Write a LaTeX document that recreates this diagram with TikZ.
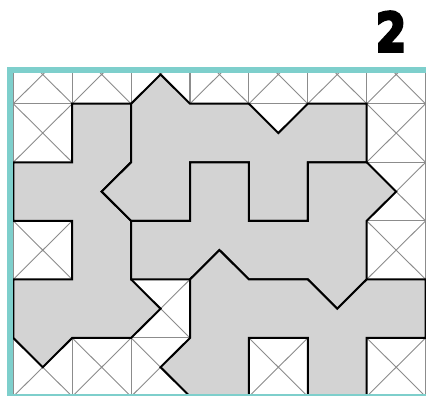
\documentclass[tikz,border=0pt]{standalone}
\usepackage{fontspec}
\newfontfamily\numfont{DejaVu Sans}[BoldFeatures={FakeBold=6}]
\definecolor{tealborder}{HTML}{7ECFCC}
\definecolor{shapegray}{HTML}{D3D3D3}
\definecolor{linegray}{HTML}{8C8C8C}
\tikzset{
  cellline/.style={draw=linegray, line width=1.1pt},
  diagline/.style={draw=linegray, line width=0.9pt},
  piece/.style={fill=shapegray, draw=black, line width=2pt, line join=miter},
  frame/.style={fill=tealborder}
}
\begin{document}
\begin{tikzpicture}[x=1pt,y=1pt]
\useasboundingbox (0,0) rectangle (426,396);
\fill[white] (0,0) rectangle (426,396);
\begin{scope}[shift={(13.3,-0.5)}, x=58.9pt, y=58.55pt]
  \clip (-0.01,0.03) rectangle (7.05,5.53);
  \foreach \i in {0,...,6} {
    \foreach \j in {0,...,5} {
      \draw[cellline] (\i,\j) rectangle ++(1,1);
      \draw[diagline] (\i,\j) -- ++(1,1) (\i+1,\j) -- ++(-1,1);
    }
  }
  % left piece
  \draw[piece] (1,5) -- (2,5) -- (2,4) -- (1.5,3.5) -- (2,3) -- (2,2) -- (2.5,1.5) -- (2,1)
    -- (1,1) -- (0.5,0.5) -- (0,1) -- (0,2) -- (1,2) -- (1,3) -- (0,3) -- (0,4) -- (1,4) -- cycle;
  % top piece
  \draw[piece] (2,5) -- (2.5,5.5) -- (3,5) -- (4,5) -- (4.5,4.5) -- (5,5) -- (6,5) -- (6,4)
    -- (5,4) -- (5,3) -- (4,3) -- (4,4) -- (3,4) -- (3,3) -- (2,3) -- (1.5,3.5) -- (2,4) -- cycle;
  % middle piece
  \draw[piece] (2,3) -- (3,3) -- (3,4) -- (4,4) -- (4,3) -- (5,3) -- (5,4) -- (6,4) -- (6.5,3.5)
    -- (6,3) -- (6,2) -- (5.5,1.5) -- (5,2) -- (4,2) -- (3.5,2.5) -- (3,2) -- (2,2) -- cycle;
  % lower piece
  \draw[piece] (3,2) -- (3.5,2.5) -- (4,2) -- (5,2) -- (5.5,1.5) -- (6,2) -- (7,2) -- (7,1)
    -- (6,1) -- (6,0) -- (5,0) -- (5,1) -- (4,1) -- (4,0) -- (3,0) -- (2.5,0.5) -- (3,1) -- cycle;
\end{scope}
% teal frame
\fill[frame] (6.7,0) rectangle (13.3,329.3);
\fill[frame] (6.7,322.7) rectangle (426,329.3);
\fill[frame] (6.7,0) rectangle (426,2);
% label
\node[inner sep=0pt, anchor=center, xscale=0.92, yscale=1.13] (num) at (391,364.5) {\numfont\bfseries\fontsize{47}{47}\selectfont 2};
\end{tikzpicture}
\end{document}
